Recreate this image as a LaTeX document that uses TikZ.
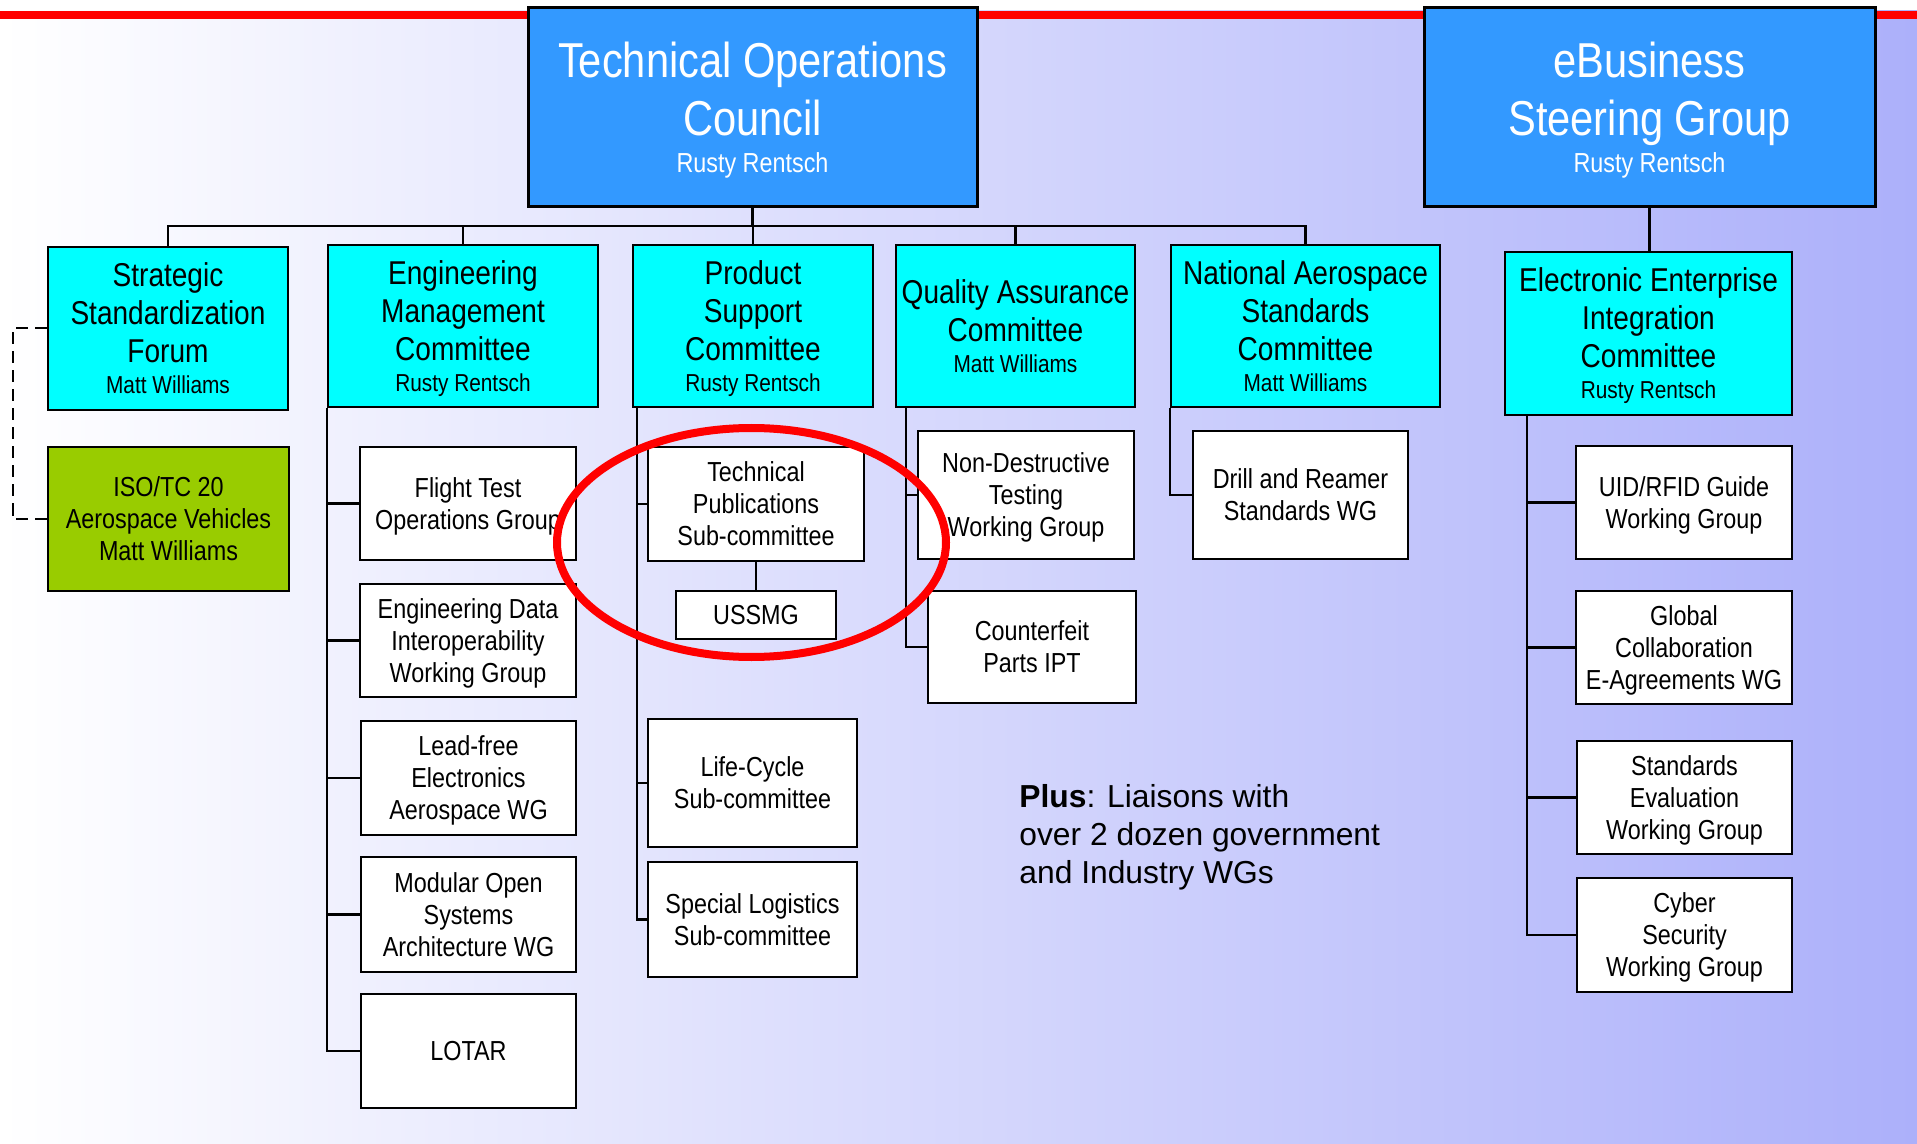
\documentclass[tikz,border=0pt]{standalone}
\usepackage{fontspec}
\setmainfont{Liberation Sans}
\newfontfamily\narrowfont[FakeStretch=0.85]{Liberation Sans}

\definecolor{councilblue}{RGB}{51,153,255}
\definecolor{committeecyan}{RGB}{0,255,255}
\definecolor{isogreen}{RGB}{153,204,0}
\definecolor{bgviolet}{RGB}{172,176,250}
\definecolor{ringred}{RGB}{255,0,0}

\newcommand{\chairfont}{\narrowfont\fontsize{13.75}{16}\selectfont}
\newcommand{\namefont}{\narrowfont\fontsize{12.25}{14}\selectfont}

\tikzset{
  boxwh/.style 2 args={minimum width=#1*0.5pt, minimum height=#2*0.5pt},
  council/.style={draw, line width=1.5pt, fill=councilblue, text=white, inner sep=0pt, align=center,
    text depth=0pt, font=\narrowfont\fontsize{24.5}{29}\selectfont},
  committee/.style={draw, line width=1.25pt, fill=committeecyan, inner sep=0pt, align=center,
    text depth=0pt, font=\narrowfont\fontsize{16.5}{19}\selectfont},
  wgbox/.style={draw, line width=1.25pt, fill=white, inner sep=0pt, align=center,
    text depth=0pt, font=\narrowfont\fontsize{13.75}{16}\selectfont},
  link/.style={line width=1.25pt},
}

\begin{document}
\begin{tikzpicture}[x=0.5pt, y=-0.5pt]
        \useasboundingbox (0,0) rectangle (1917,1144);

        % Background and red rule
        \shade[left color=white, right color=bgviolet] (0,11) rectangle (1917,1144);
        \fill[ringred] (0,11) rectangle (1917,19);

        % Councils
        \node[council, boxwh={449}{199}] (toc) at (752.5,107.5) {Technical Operations\\Council\\[-10.5pt]{\chairfont Rusty Rentsch}};
        \node[council, boxwh={451}{199}] (ebsg) at (1649.5,107.5) {eBusiness\\Steering Group\\[-10.5pt]{\chairfont Rusty Rentsch}};

        % Committees
        \node[committee, boxwh={240}{163}] (ssf) at (168,328.5) {Strategic\\Standardization\\Forum\\[-3.5pt]{\namefont Matt Williams}};
        \node[committee, boxwh={270}{162}] (emc) at (463,326) {Engineering\\Management\\Committee\\[-3.5pt]{\namefont Rusty Rentsch}};
        \node[committee, boxwh={240}{162}] (psc) at (753,326) {Product\\Support\\Committee\\[-3.5pt]{\namefont Rusty Rentsch}};
        \node[committee, boxwh={239}{162}] (qac) at (1015.5,326) {Quality Assurance\\Committee\\[-3.5pt]{\namefont Matt Williams}};
        \node[committee, boxwh={269}{162}] (nasc) at (1305.5,326) {National Aerospace\\Standards\\Committee\\[-3.5pt]{\namefont Matt Williams}};
        \node[committee, boxwh={287}{163}] (eeic) at (1648.5,333.5) {Electronic Enterprise\\Integration\\Committee\\[-3.5pt]{\namefont Rusty Rentsch}};

        % ISO liaison
        \node[wgbox, fill=isogreen, boxwh={241}{144}] (iso) at (168.5,519) {ISO/TC 20\\Aerospace Vehicles\\Matt Williams};

        % Engineering Management groups
        \node[wgbox, boxwh={216}{113}] (flight) at (468,503.5) {Flight Test\\Operations Group};
        \node[wgbox, boxwh={216}{113}] (engdata) at (468,640.5) {Engineering Data\\Interoperability\\Working Group};
        \node[wgbox, boxwh={215}{114}] (leadfree) at (468.5,778) {Lead-free\\Electronics\\Aerospace WG};
        \node[wgbox, boxwh={215}{115}] (mosa) at (468.5,914.5) {Modular Open\\Systems\\Architecture WG};
        \node[wgbox, boxwh={215}{114}] (lotar) at (468.5,1051) {LOTAR};

        % Product Support groups
        \node[wgbox, boxwh={216}{114}] (techpub) at (756,504) {Technical\\Publications\\Sub-committee};
        \node[wgbox, boxwh={160}{48}] (ussmg) at (756,615) {USSMG};
        \node[wgbox, boxwh={209}{128}] (lifecycle) at (752.5,783) {Life-Cycle\\Sub-committee};
        \node[wgbox, boxwh={209}{115}] (speclog) at (752.5,919.5) {Special Logistics\\Sub-committee};

        % Quality Assurance groups
        \node[wgbox, boxwh={216}{128}] (ndt) at (1026,495) {Non-Destructive\\Testing\\Working Group};
        \node[wgbox, boxwh={208}{112}] (counterfeit) at (1032,647) {Counterfeit\\Parts IPT};

        % NAS group
        \node[wgbox, boxwh={215}{128}] (drill) at (1300.5,495) {Drill and Reamer\\Standards WG};

        % Electronic Enterprise groups
        \node[wgbox, boxwh={216}{113}] (uid) at (1684,502.5) {UID/RFID Guide\\Working Group};
        \node[wgbox, boxwh={216}{113}] (global) at (1684,647.5) {Global\\Collaboration\\E-Agreements WG};
        \node[wgbox, boxwh={215}{113}] (stdeval) at (1684.5,797.5) {Standards\\Evaluation\\Working Group};
        \node[wgbox, boxwh={215}{114}] (cyber) at (1684.5,935) {Cyber\\Security\\Working Group};

        % Council to committees
        \coordinate (tocbus) at (752.5,226);
        \draw[link] (toc.south) -- (tocbus);
        \foreach \c in {ssf,emc,psc,qac,nasc}
            \draw[link] (tocbus) -| (\c.north);
        \draw[link] (ebsg.south) -- (ebsg.south |- eeic.north);

        % Committees to groups
        \foreach \g in {flight,engdata,leadfree,mosa,lotar}
            \draw[link] (emc.south west) |- (\g.west);
        \coordinate (psctrunk) at (637,407);
        \foreach \g in {techpub,lifecycle,speclog}
            \draw[link] (psctrunk) |- (\g.west);
        \draw[link] (techpub.south) -- (ussmg.north);
        \coordinate (qatrunk) at (906,407);
        \foreach \g in {ndt,counterfeit}
            \draw[link] (qatrunk) |- (\g.west);
        \draw[link] (nasc.south west) |- (drill.west);
        \coordinate (eetrunk) at (1527,415);
        \foreach \g in {uid,global,stdeval,cyber}
            \draw[link] (eetrunk) |- (\g.west);

        % Dashed liaison
        \draw[line width=1pt, dash pattern=on 6pt off 3.5pt] (ssf.west) -- ++(-34,0) |- (iso.west);

        % Highlight ring
        \draw[ringred, line width=4pt] (751.5,542.5) ellipse [x radius=97.25pt, y radius=57.25pt];

        % Note
        \node[anchor=north west, inner sep=0pt, align=left, font=\fontsize{15.9}{19}\selectfont] (plus) at (1019,784)
            {\textbf{Plus}: Liaisons with\\over 2 dozen government\\and Industry WGs};
    \end{tikzpicture}
\end{document}
